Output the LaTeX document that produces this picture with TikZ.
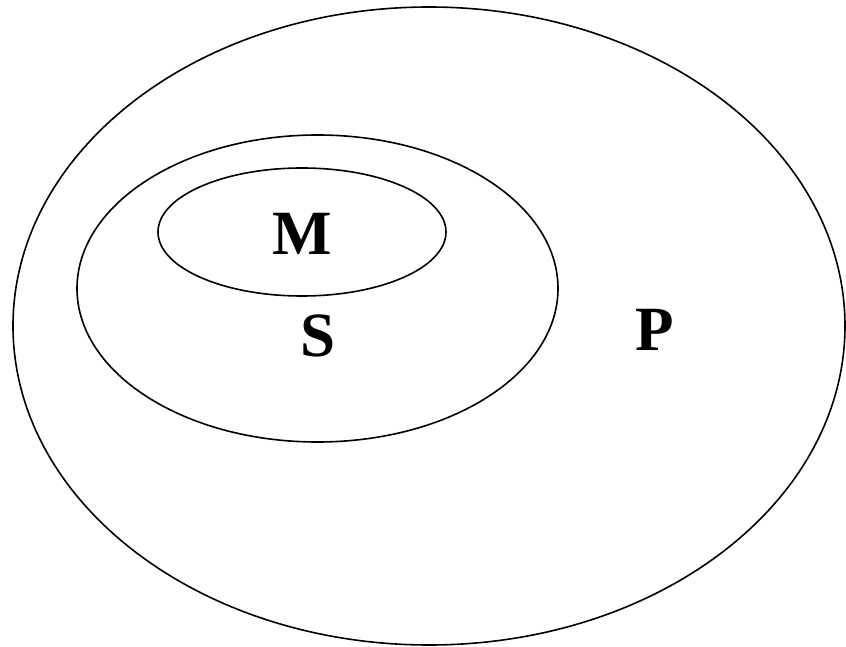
\documentclass[tikz,border=0pt]{standalone}
\usepackage{fontspec}
\setmainfont{Liberation Serif}

\tikzset{setlabel/.style={font=\fontsize{63}{63}\selectfont\bfseries,inner sep=0pt}}

\begin{document}
\begin{tikzpicture}[x=1pt,y=-1pt,line width=1.6pt]
  \useasboundingbox (0,0) rectangle (846,647);
  \draw (429,326) ellipse (416 and 319);
  \draw (317.5,288.5) ellipse (240.5 and 153.5);
  \draw (302,232) ellipse (144 and 64);
  \node[setlabel] (m) at (302,234) {M};
  \node[setlabel] (s) at (318,336) {S};
  \node[setlabel] (p) at (655,330) {P};
\end{tikzpicture}
\end{document}
